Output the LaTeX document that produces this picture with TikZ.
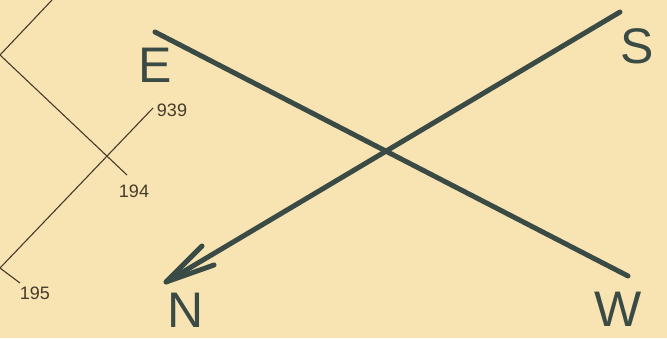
\documentclass[tikz,border=0pt]{standalone}
\usepackage{fontspec}
\setmainfont{Liberation Sans}
\definecolor{paper}{RGB}{248,228,178}
\definecolor{ink}{RGB}{58,74,69}
\definecolor{pen}{RGB}{70,58,42}
\begin{document}
\begin{tikzpicture}[x=1pt,y=-1pt,
  thick line/.style={draw=ink,line width=5pt,line cap=round},
  thin line/.style={draw=pen,line width=1.1pt},
  big/.style={text=ink,font=\fontsize{50}{50}\selectfont,inner sep=0pt},
  small/.style={text=pen,font=\fontsize{18}{18}\selectfont,inner sep=0pt}]
\fill[paper] (0,0) rectangle (667,338);
\useasboundingbox (0,0) rectangle (667,338);
% thick compass lines
\coordinate (ew1) at (155,32);
\coordinate (ew2) at (628,276);
\coordinate (s1) at (620,12);
\coordinate (ntip) at (166,282);
\coordinate (b1) at (202,246);
\coordinate (b2) at (214,265);
\draw[thick line] (ew1) -- (ew2);
\draw[thick line] (s1) -- (ntip);
\draw[thick line,line join=round] (b1) -- (ntip) -- (b2);
\node[big] (E) at (155,65) {E};
\node[big] (S) at (637,46) {S};
\node[big] (N) at (186,310) {N};
\node[big] (W) at (618,309) {W};
% thin lines
\coordinate (t1) at (52,0);
\coordinate (t2) at (0,55);
\coordinate (a2) at (127,175);
\coordinate (c1) at (153,108);
\coordinate (c2) at (0,268);
\coordinate (c3) at (20,283);
\draw[thin line] (t1) -- (t2) -- (a2);
\draw[thin line] (c1) -- (c2);
\draw[thin line] (c2) -- (c3);
\node[small] (n939) at (172,110) {939};
\node[small] (n194) at (134,191) {194};
\node[small] (n195) at (35,293) {195};
\end{tikzpicture}
\end{document}
